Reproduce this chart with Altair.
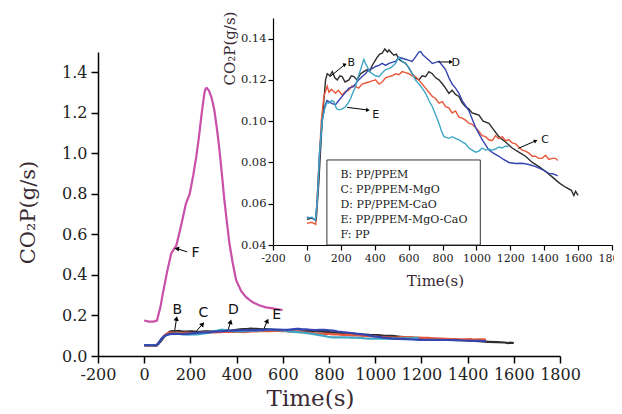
import altair as alt
import pandas as pd

# ---------------- data ----------------
B_t = [0, 30, 55, 70, 90, 110, 120, 135, 150, 165, 179, 195, 208, 225, 248, 262, 277, 295, 317, 335, 356, 370, 385, 400, 415, 430, 444, 460, 475, 484, 500, 513, 528, 543, 560, 582, 600, 621, 640, 661, 680, 700, 720, 740, 760, 779, 800, 818, 838, 857, 877, 897, 915, 936, 955, 975, 995, 1015, 1040, 1074, 1100, 1133, 1170, 1211, 1250, 1290, 1330, 1369, 1410, 1447, 1490, 1526, 1560, 1575, 1585, 1600]
B_v = [0.0525, 0.053, 0.052, 0.07, 0.10, 0.12, 0.123, 0.122, 0.124, 0.121, 0.120, 0.122, 0.1216, 0.119, 0.120, 0.122, 0.1216, 0.120, 0.123, 0.124, 0.125, 0.124, 0.127, 0.129, 0.131, 0.1325, 0.133, 0.135, 0.1335, 0.1345, 0.133, 0.132, 0.1325, 0.130, 0.129, 0.128, 0.126, 0.123, 0.121, 0.120, 0.122, 0.1216, 0.124, 0.123, 0.121, 0.120, 0.118, 0.116, 0.1135, 0.115, 0.113, 0.112, 0.109, 0.107, 0.106, 0.104, 0.1035, 0.103, 0.100, 0.099, 0.096, 0.0925, 0.090, 0.087, 0.085, 0.083, 0.080, 0.078, 0.0755, 0.073, 0.070, 0.068, 0.0665, 0.064, 0.066, 0.064]

C_t = [0, 30, 52, 65, 85, 100, 112, 120, 130, 145, 169, 185, 208, 228, 248, 265, 287, 305, 326, 345, 366, 385, 405, 425, 444, 464, 484, 503, 523, 543, 562, 582, 602, 620, 641, 660, 680, 700, 720, 740, 759, 779, 799, 818, 838, 857, 877, 897, 916, 936, 955, 975, 995, 1015, 1034, 1054, 1074, 1093, 1113, 1133, 1153, 1172, 1192, 1211, 1231, 1250, 1270, 1290, 1310, 1330, 1349, 1369, 1388, 1408, 1428, 1447, 1467, 1480]
C_v = [0.0505, 0.051, 0.050, 0.07, 0.10, 0.112, 0.115, 0.117, 0.114, 0.1155, 0.1135, 0.115, 0.1127, 0.1145, 0.115, 0.117, 0.1167, 0.116, 0.118, 0.1185, 0.119, 0.1195, 0.120, 0.118, 0.119, 0.121, 0.1216, 0.122, 0.123, 0.1225, 0.124, 0.1235, 0.123, 0.122, 0.1216, 0.120, 0.118, 0.116, 0.114, 0.112, 0.111, 0.1087, 0.1095, 0.107, 0.1065, 0.104, 0.105, 0.102, 0.1015, 0.1005, 0.099, 0.0985, 0.097, 0.095, 0.093, 0.0925, 0.091, 0.0905, 0.093, 0.0915, 0.0925, 0.0905, 0.091, 0.0895, 0.089, 0.0875, 0.086, 0.0855, 0.0845, 0.083, 0.083, 0.082, 0.082, 0.0835, 0.0815, 0.082, 0.082, 0.081]

D_t = [0, 30, 50, 60, 75, 90, 105, 118, 130, 150, 169, 188, 208, 228, 248, 268, 287, 305, 326, 345, 366, 385, 405, 425, 444, 464, 484, 503, 523, 543, 562, 582, 602, 621, 640, 660, 671, 685, 700, 720, 740, 760, 779, 799, 818, 838, 857, 877, 897, 916, 936, 956, 975, 995, 1015, 1034, 1054, 1074, 1100, 1133, 1160, 1192, 1230, 1270, 1310, 1349, 1390, 1428, 1450, 1467, 1480]
D_v = [0.0535, 0.053, 0.052, 0.06, 0.085, 0.10, 0.107, 0.110, 0.1095, 0.1085, 0.108, 0.110, 0.112, 0.114, 0.116, 0.1165, 0.118, 0.120, 0.1216, 0.123, 0.125, 0.1255, 0.1265, 0.127, 0.128, 0.127, 0.128, 0.1285, 0.129, 0.131, 0.1305, 0.130, 0.1295, 0.129, 0.131, 0.1335, 0.1337, 0.132, 0.131, 0.1295, 0.128, 0.1285, 0.129, 0.127, 0.125, 0.121, 0.118, 0.116, 0.1135, 0.110, 0.1075, 0.105, 0.101, 0.097, 0.094, 0.091, 0.0885, 0.086, 0.0845, 0.083, 0.0815, 0.080, 0.0795, 0.0796, 0.079, 0.078, 0.0765, 0.0747, 0.0745, 0.074, 0.0735]

E_t = [0, 30, 50, 60, 75, 90, 105, 118, 130, 145, 159, 175, 189, 208, 228, 245, 258, 272, 287, 300, 317, 328, 336, 345, 356, 370, 385, 405, 425, 445, 464, 484, 503, 523, 543, 562, 582, 602, 621, 640, 661, 680, 700, 720, 740, 760, 779, 795, 809, 825, 838, 857, 877, 897, 916, 936, 955, 975, 995, 1015, 1034, 1054, 1074, 1093, 1113, 1133, 1153, 1172, 1190]
E_v = [0.053, 0.0535, 0.052, 0.06, 0.085, 0.100, 0.106, 0.109, 0.1087, 0.110, 0.1095, 0.106, 0.1055, 0.106, 0.107, 0.109, 0.111, 0.114, 0.1167, 0.121, 0.125, 0.128, 0.130, 0.128, 0.1264, 0.124, 0.123, 0.122, 0.1216, 0.1235, 0.125, 0.1255, 0.1264, 0.128, 0.131, 0.129, 0.128, 0.126, 0.123, 0.120, 0.118, 0.116, 0.1135, 0.110, 0.107, 0.103, 0.099, 0.095, 0.0925, 0.092, 0.0917, 0.0925, 0.0917, 0.091, 0.090, 0.089, 0.087, 0.086, 0.085, 0.0855, 0.087, 0.086, 0.0865, 0.086, 0.0865, 0.0875, 0.087, 0.088, 0.0876]

F_t = [0, 20, 40, 55, 70, 81, 100, 117, 130, 139, 155, 168, 180, 197, 212, 225, 237, 247, 255, 261, 266, 271, 280, 290, 297, 304, 315, 326, 337, 347, 358, 369, 383, 398, 420, 441, 470, 498, 527, 556, 580, 599]
F_v = [0.175, 0.17, 0.17, 0.175, 0.24, 0.31, 0.42, 0.506, 0.53, 0.545, 0.62, 0.686, 0.75, 0.80, 0.89, 0.98, 1.08, 1.18, 1.25, 1.30, 1.32, 1.322, 1.31, 1.28, 1.25, 1.21, 1.12, 1.015, 0.89, 0.77, 0.66, 0.555, 0.46, 0.374, 0.32, 0.29, 0.265, 0.25, 0.24, 0.235, 0.23, 0.227]

series_names = ["B", "C", "D", "E", "F"]
series_colors = ["#2d2d2d", "#e8583a", "#3545b0", "#3fa6c6", "#c94fa8"]

# annotations (main)
main_lab = ["B", "C", "D", "E", "F"]
main_lab_t = [143, 256, 386, 574, 222]
main_lab_v = [0.227, 0.21, 0.227, 0.202, 0.506]
main_arr_t1 = [132, 224, 364, 519, 186]
main_arr_v1 = [0.125, 0.12, 0.131, 0.136, 0.514]
main_arr_t2 = [140, 253, 374, 533, 141]
main_arr_v2 = [0.185, 0.158, 0.169, 0.174, 0.53]
main_arr_ang = [10, 40, 15, 25, 280]

# annotations (inset)
ins_lab = ["B", "D", "E", "C"]
ins_lab_t = [262, 878, 406, 1405]
ins_lab_v = [0.128, 0.128, 0.103, 0.0909]
ins_arr_t1 = [135, 776, 237, 1247]
ins_arr_v1 = [0.1215, 0.1287, 0.1067, 0.0868]
ins_arr_t2 = [225, 850, 360, 1350]
ins_arr_v2 = [0.1275, 0.1287, 0.1054, 0.0905]
ins_arr_ang = [65, 90, 95, 65]

legend_lines = ["B: PP/PPEM", "C: PP/PPEM-MgO", "D: PP/PPEM-CaO", "E: PP/PPEM-MgO-CaO", "F: PP"]
legend_v = [0.0739, 0.0667, 0.0594, 0.0521, 0.0448]
legend_t = 198
legend_box = {"t1": 118, "t2": 1023, "v1": 0.04, "v2": 0.0812}

# ---------------- build tables ----------------
def long(names, ts, vs):
    rows = []
    for n, t, v in zip(names, ts, vs):
        for a, b in zip(t, v):
            rows.append({"s": n, "t": a, "v": b})
    return pd.DataFrame(rows)

main_df = long(["F", "B", "C", "E", "D"], [F_t, B_t, C_t, E_t, D_t], [F_v, B_v, C_v, E_v, D_v])
ins_df = long(["B", "C", "D", "E"], [B_t, C_t, D_t, E_t], [B_v, C_v, D_v, E_v])

color = alt.Color("s:N", scale=alt.Scale(domain=series_names, range=series_colors), legend=None)

SERIF = "DejaVu Serif"
TSERIF = "DejaVu Serif"
SANS = "DejaVu Sans"
TITLE_COLOR = "#3a2a34"

# ---------------- main axes ----------------
xvals = list(range(-200, 1801, 100))
main_x_axis = alt.Axis(
    values=xvals, grid=False,
    labelExpr="datum.value % 200 == 0 ? '' + datum.value : ''",
    tickSize={"condition": {"test": "datum.value % 200 == 0", "value": 7}, "value": 4},
    labelFont=SERIF, labelFontSize=16, labelColor="#222", labelPadding=3,
    labelOverlap=False, labelFlush=False,
    domainColor="black", domainWidth=1.5, tickColor="black", tickWidth=1.5,
    title="Time(s)", titleFont=TSERIF, titleFontSize=23, titleFontWeight="normal",
    titleColor=TITLE_COLOR, titleX=212, titleY=42, titleAlign="center", titleBaseline="middle",
)
yvals = [round(i * 0.1, 1) for i in range(16)]
main_y_axis = alt.Axis(
    values=yvals, grid=False,
    labelExpr="round(datum.value*10) % 2 == 0 ? format(datum.value, '.1f') : ''",
    tickSize={"condition": {"test": "round(datum.value*10) % 2 == 0", "value": 7}, "value": 4},
    labelFont=SERIF, labelFontSize=16, labelColor="#222", labelPadding=4,
    labelOverlap=False, labelFlush=False,
    domainColor="black", domainWidth=1.5, tickColor="black", tickWidth=1.5,
    title="CO₂P(g/s)", titleFont=TSERIF, titleFontSize=21, titleFontWeight="normal",
    titleColor=TITLE_COLOR, titleX=-70, titleY=160, titleAlign="center", titleBaseline="middle",
    titleAngle=270,
)
mx = alt.Scale(domain=[-200, 1800], nice=False, zero=False)
my = alt.Scale(domain=[0, 1.5], nice=False, zero=False)

main_lines = alt.Chart(main_df).mark_line(strokeWidth=2.2).encode(
    x=alt.X("t:Q", scale=mx, axis=main_x_axis),
    y=alt.Y("v:Q", scale=my, axis=main_y_axis),
    color=color, detail="s:N", order=alt.Order("t:Q"),
)

ml_df = pd.DataFrame({"lab": main_lab, "t": main_lab_t, "v": main_lab_v})
ma_df = pd.DataFrame({"t1": main_arr_t1, "v1": main_arr_v1, "t2": main_arr_t2, "v2": main_arr_v2, "ang": main_arr_ang})

main_text = alt.Chart(ml_df).mark_text(font=SANS, fontSize=14, color="#111").encode(
    x=alt.X("t:Q", scale=mx), y=alt.Y("v:Q", scale=my), text="lab:N")
main_rules = alt.Chart(ma_df).mark_rule(color="black", strokeWidth=1).encode(
    x=alt.X("t1:Q", scale=mx), y=alt.Y("v1:Q", scale=my), x2="t2:Q", y2="v2:Q")
main_heads = alt.Chart(ma_df).mark_point(shape="triangle-up", filled=True, size=28, color="black", opacity=1).encode(
    x=alt.X("t2:Q", scale=mx), y=alt.Y("v2:Q", scale=my), angle=alt.Angle("ang:Q", scale=None))

main = alt.layer(main_lines, main_rules, main_heads, main_text)

# ---------------- inset ----------------
ix = alt.Scale(domain=[-200, 1800], range=[175, 514], nice=False, zero=False)
iy = alt.Scale(domain=[0.04, 0.15], range=[193, -34], nice=False, zero=False)

ins_x_axis = alt.Axis(
    values=xvals, grid=False, orient="bottom", offset=-111,
    labelExpr="datum.value % 200 == 0 ? '' + datum.value : ''",
    tickSize={"condition": {"test": "datum.value % 200 == 0", "value": 5}, "value": 3},
    labelFont=SERIF, labelFontSize=11, labelColor="#222", labelPadding=2,
    labelOverlap=False, labelFlush=False,
    domainColor="black", domainWidth=1.2, tickColor="black", tickWidth=1.2,
    title="Time(s)", titleFont=TSERIF, titleFontSize=15, titleFontWeight="normal",
    titleColor=TITLE_COLOR, titleX=337, titleY=35, titleAlign="center", titleBaseline="middle",
)
ivals = [round(0.04 + i * 0.01, 2) for i in range(12)]
ins_y_axis = alt.Axis(
    values=ivals, grid=False, orient="left", offset=-175,
    labelExpr="round(datum.value*100) % 2 == 0 ? format(datum.value, '.2f') : ''",
    tickSize={"condition": {"test": "round(datum.value*100) % 2 == 0", "value": 5}, "value": 3},
    labelFont=SERIF, labelFontSize=11.5, labelColor="#222", labelPadding=2,
    labelOverlap=False, labelFlush=False,
    domainColor="black", domainWidth=1.2, tickColor="black", tickWidth=1.2,
    title="CO₂P(g/s)", titleFont=TSERIF, titleFontSize=15, titleFontWeight="normal",
    titleColor=TITLE_COLOR, titleX=-44, titleY=-4, titleAlign="center", titleBaseline="middle",
    titleAngle=270,
)

ins_lines = alt.Chart(ins_df).mark_line(strokeWidth=1.4).encode(
    x=alt.X("t:Q", scale=ix, axis=ins_x_axis),
    y=alt.Y("v:Q", scale=iy, axis=ins_y_axis),
    color=color, detail="s:N", order=alt.Order("t:Q"),
)

box_df = pd.DataFrame([legend_box])
ins_box = alt.Chart(box_df).mark_rect(fill="white", stroke="#333", strokeWidth=1).encode(
    x=alt.X("t1:Q", scale=ix), x2="t2:Q", y=alt.Y("v1:Q", scale=iy), y2="v2:Q")
leg_df = pd.DataFrame({"txt": legend_lines, "v": legend_v, "t": [legend_t] * len(legend_lines)})
ins_leg = alt.Chart(leg_df).mark_text(font=SERIF, fontSize=11, color="#222", align="left", baseline="middle").encode(
    x=alt.X("t:Q", scale=ix), y=alt.Y("v:Q", scale=iy), text="txt:N")

il_df = pd.DataFrame({"lab": ins_lab, "t": ins_lab_t, "v": ins_lab_v})
ia_df = pd.DataFrame({"t1": ins_arr_t1, "v1": ins_arr_v1, "t2": ins_arr_t2, "v2": ins_arr_v2, "ang": ins_arr_ang})
ins_text = alt.Chart(il_df).mark_text(font=SANS, fontSize=11, color="#111").encode(
    x=alt.X("t:Q", scale=ix), y=alt.Y("v:Q", scale=iy), text="lab:N")
ins_rules = alt.Chart(ia_df).mark_rule(color="black", strokeWidth=1).encode(
    x=alt.X("t1:Q", scale=ix), y=alt.Y("v1:Q", scale=iy), x2="t2:Q", y2="v2:Q")
ins_heads = alt.Chart(ia_df).mark_point(shape="triangle-up", filled=True, size=18, color="black", opacity=1).encode(
    x=alt.X("t2:Q", scale=ix), y=alt.Y("v2:Q", scale=iy), angle=alt.Angle("ang:Q", scale=None))

inset = alt.layer(ins_lines, ins_box, ins_leg, ins_rules, ins_heads, ins_text)

chart = alt.layer(main, inset).resolve_scale(x="independent", y="independent").properties(
    width=462, height=304,
    padding={"left": 90, "top": 44, "right": 54, "bottom": 58},
    autosize=alt.AutoSizeParams(type="none"),
    background="white",
).configure_view(stroke=None)

chart.save("out.html", embed_options={"renderer": "svg", "actions": False})
